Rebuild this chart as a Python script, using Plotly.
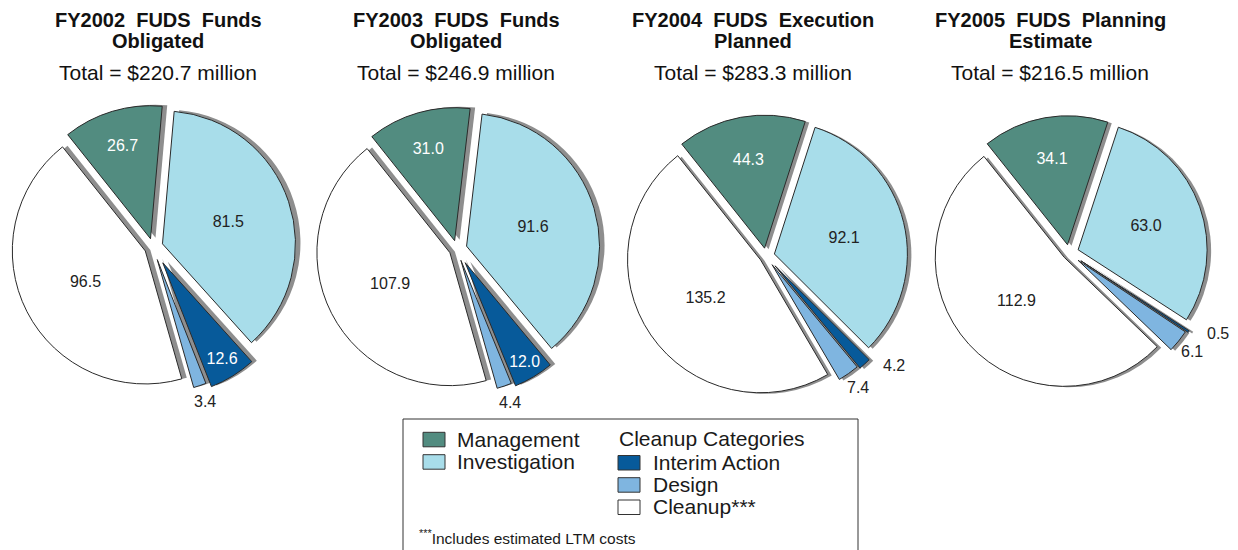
import math
import plotly.graph_objects as go

W, H = 1238, 550

# ---------------- data ----------------
categories = ["Management", "Investigation", "Interim Action", "Design", "Cleanup***"]
title_line1 = ["FY2002 FUDS Funds", "FY2003 FUDS Funds", "FY2004 FUDS Execution", "FY2005 FUDS Planning"]
title_line2 = ["Obligated", "Obligated", "Planned", "Estimate"]
totals = [220.7, 246.9, 283.3, 216.5]

fy2002 = [26.7, 81.5, 12.6, 3.4, 96.5]
fy2003 = [31.0, 91.6, 12.0, 4.4, 107.9]
fy2004 = [44.3, 92.1, 4.2, 7.4, 135.2]
fy2005 = [34.1, 63.0, 0.5, 6.1, 112.9]
series = [fy2002, fy2003, fy2004, fy2005]

# ---------------- style ----------------
FONT = "Liberation Sans, Arial, sans-serif"
colors = ["#528C80", "#A8DDEA", "#075A9A", "#7FB5E0", "#FFFFFF"]
inside_colors = ["white", "#222222", "white", "#222222", "#222222"]
# which slices carry their value outside the pie
outside = [
    [False, False, False, True, False],
    [False, False, False, True, False],
    [False, False, True, True, False],
    [False, False, True, True, False],
]
# how an outside value sits next to its slice: radial (beyond tip) or side (to the right)
outside_mode = ["radial", "radial", "side", "radial", "radial"]
pulls = [
    [0.065, 0.075, 0.14, 0.10, 0.065],
    [0.065, 0.075, 0.12, 0.09, 0.06],
    [0.06, 0.065, 0.10, 0.08, 0.05],
    [0.065, 0.075, 0.11, 0.09, 0.05],
]
# pie geometry in pixels: centre x, centre y, radius
geom = [(153, 247, 133), (457, 249, 133), (766, 256, 133), (1069, 253, 129)]
shadow_off = [(5, -1), (5, -1), (4, 1), (4, 1)]
title_x = [158, 456, 753, 1050]
ROT = -38.5


def dom(cx, cy, r, maxpull):
    s = 2 * r * (1 + maxpull)
    x0 = max(0.0, (cx - s / 2) / W)
    x1 = min(1.0, (cx + s / 2) / W)
    y0 = max(0.0, 1 - (cy + s / 2) / H)
    y1 = min(1.0, 1 - (cy - s / 2) / H)
    return dict(x=[x0, x1], y=[y0, y1])


def py(p):
    return 1 - p / H


def px(p):
    return p / W


fig = go.Figure()
annotations = []


def ann(text, x, yc, size, bold=False, xanchor="center", color="#111111"):
    annotations.append(dict(
        text=f"<b>{text}</b>" if bold else text,
        x=px(x), y=py(yc), xref="paper", yref="paper",
        xanchor=xanchor, yanchor="middle", showarrow=False,
        font=dict(family=FONT, size=size, color=color),
    ))


for i, vals in enumerate(series):
    cx, cy, r = geom[i]
    mp = max(pulls[i])
    dx, dy = shadow_off[i]
    # shadow
    fig.add_trace(go.Pie(
        labels=categories, values=vals, sort=False, direction="clockwise",
        rotation=ROT, pull=pulls[i], domain=dom(cx + dx, cy + dy, r, mp),
        marker=dict(colors=["#8E8E8E"] * 5, line=dict(width=0)),
        textinfo="none", hoverinfo="skip", showlegend=False,
    ))
    # main pie
    fig.add_trace(go.Pie(
        labels=categories, values=vals, sort=False, direction="clockwise",
        rotation=ROT, pull=pulls[i], domain=dom(cx, cy, r, mp),
        marker=dict(colors=colors, line=dict(color="#2a2a2a", width=1)),
        texttemplate="%{value:.1f}",
        textposition=["none" if o else "inside" for o in outside[i]],
        insidetextorientation="horizontal",
        insidetextfont=dict(family=FONT, size=16, color=inside_colors),
        showlegend=False, name=title_line1[i],
    ))
    # values of the thin slices, placed just beyond the slice tip
    total = sum(vals)
    cum = 0.0
    for j, v in enumerate(vals):
        mid = math.radians(ROT + 360.0 * (cum + v / 2) / total)
        cum += v
        if not outside[i][j]:
            continue
        ux, uy = math.sin(mid), -math.cos(mid)
        R = r * (1 + pulls[i][j])
        tx, ty = cx + ux * R, cy + uy * R
        if outside_mode[j] == "side":
            ann(f"{v:.1f}", tx + 16, ty + 2, 16, xanchor="left", color="#222222")
        else:
            ann(f"{v:.1f}", tx + ux * 17, ty + uy * 17, 16, color="#222222")

for i in range(4):
    ann(title_line1[i].replace(" ", "\u00a0 "), title_x[i], 19.8, 20, bold=True)
    ann(title_line2[i], title_x[i], 41.4, 20, bold=True)
    ann(f"Total = ${totals[i]:.1f} million", title_x[i], 72.7, 21)

# ---------------- legend (drawn) ----------------
shapes = [dict(type="rect", xref="paper", yref="paper",
               x0=px(403), x1=px(858), y0=py(552), y1=py(419),
               line=dict(color="#333333", width=1), fillcolor="rgba(0,0,0,0)")]

legend_rows = [
    (0, 423, 455, 446.3),
    (1, 423, 455, 468.7),
    (2, 618, 651, 469.5),
    (3, 618, 651, 491.7),
    (4, 618, 651, 514.0),
]
for idx, sx, tx, base in legend_rows:
    shapes.append(dict(type="rect", xref="paper", yref="paper",
                       x0=px(sx), x1=px(sx + 22), y0=py(base + 0.5), y1=py(base - 14),
                       line=dict(color="#333333", width=1), fillcolor=colors[idx]))
    ann(categories[idx], tx, base - 7.3, 21, xanchor="left", color="#1a1a1a")

ann("Cleanup Categories", 617, 438.7, 21, xanchor="left", color="#1a1a1a")
ann("<sup>***</sup>Includes estimated LTM costs", 417, 536.5, 15.5, xanchor="left", color="#1a1a1a")

fig.update_layout(
    width=W, height=H,
    margin=dict(l=0, r=0, t=0, b=0, pad=0, autoexpand=False),
    paper_bgcolor="white", plot_bgcolor="white",
    showlegend=False,
    annotations=annotations, shapes=shapes,
    font=dict(family=FONT),
)

fig.write_html(
    "out.html",
    config={"displayModeBar": False},
    post_script="document.body.style.margin='0';document.body.style.padding='0';",
)
